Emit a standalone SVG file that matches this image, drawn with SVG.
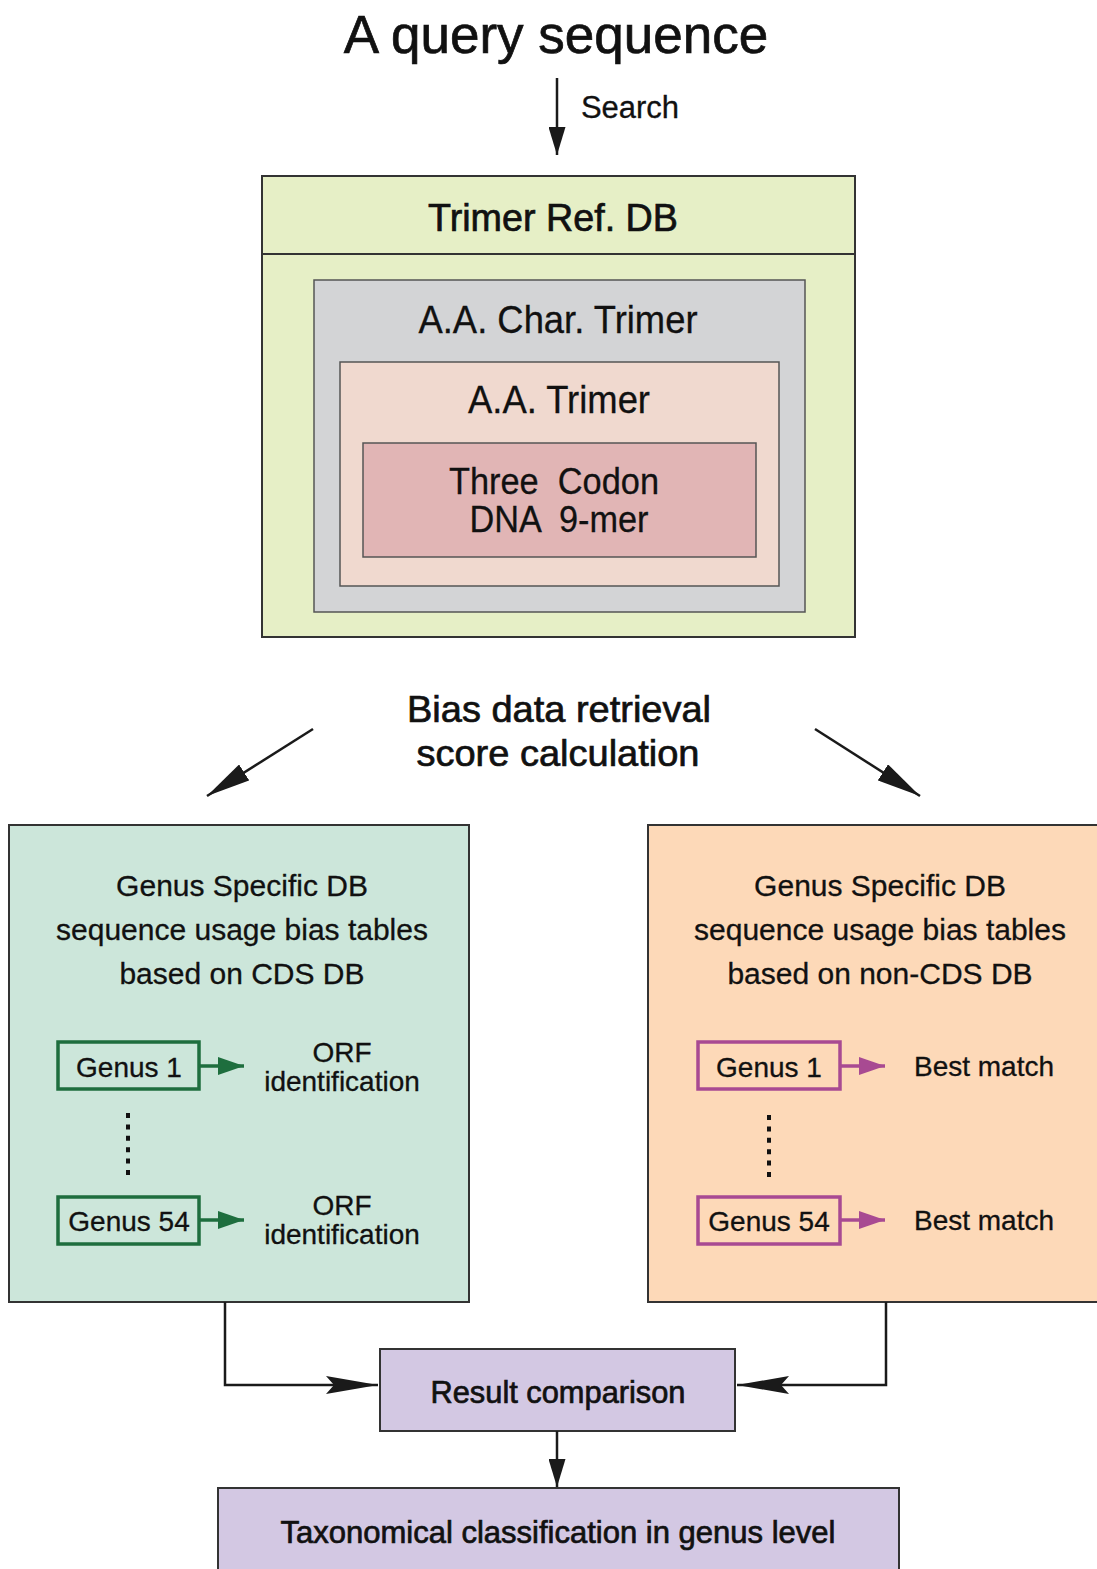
<svg xmlns="http://www.w3.org/2000/svg" width="1097" height="1569" viewBox="0 0 1097 1569">
  <style>
    text { font-family: "Liberation Sans", Arial, sans-serif; fill: #111; text-anchor: middle; stroke: #111; stroke-width: 0.3; }
    .med { stroke-width: 0.7; }
    .box { stroke: #333; stroke-width: 2; }
    .thin { stroke: #555; stroke-width: 1.5; }
    .line { fill: none; stroke: #1a1a1a; stroke-width: 2.5; }
    .gbox { fill: none; stroke: #1e6e3e; stroke-width: 3.5; }
    .mbox { fill: none; stroke: #a84a92; stroke-width: 3.5; }
    .dots { fill: none; stroke-width: 4; stroke-dasharray: 5 6.4; }
  </style>
  <defs>
    <marker id="headS" markerUnits="userSpaceOnUse" viewBox="0 0 28 17" refX="28" refY="8.5" markerWidth="28" markerHeight="17" orient="auto">
      <path d="M0,0 L28,8.5 L0,17 Z" fill="#1a1a1a"/>
    </marker>
    <marker id="headD" markerUnits="userSpaceOnUse" viewBox="0 0 44 19" refX="44" refY="9.5" markerWidth="44" markerHeight="19" orient="auto">
      <path d="M0,0 L44,9.5 L0,19 Z" fill="#1a1a1a"/>
    </marker>
    <marker id="headL" markerUnits="userSpaceOnUse" viewBox="0 0 52 18" refX="52" refY="9" markerWidth="52" markerHeight="18" orient="auto">
      <path d="M0,0 L52,9 L0,18 L8,9 Z" fill="#1a1a1a"/>
    </marker>
    <marker id="headG" markerUnits="userSpaceOnUse" viewBox="0 0 26 18" refX="26" refY="9" markerWidth="26" markerHeight="18" orient="auto">
      <path d="M0,0 L26,9 L0,18 Z" fill="#1e6e3e"/>
    </marker>
    <marker id="headM" markerUnits="userSpaceOnUse" viewBox="0 0 26 18" refX="26" refY="9" markerWidth="26" markerHeight="18" orient="auto">
      <path d="M0,0 L26,9 L0,18 Z" fill="#a84a92"/>
    </marker>
  </defs>

  <rect width="1097" height="1569" fill="#ffffff"/>

  <!-- title -->
  <g id="query">
    <text class="med" x="556" y="53" font-size="53">A query sequence</text>
  </g>

  <!-- nested trimer reference database -->
  <g id="trimer-ref-db">
    <rect class="box" x="262" y="176" width="593" height="461" fill="#e6efc6"/>
    <line class="box" x1="262" y1="254" x2="855" y2="254"/>
    <text class="med" x="553" y="231" font-size="38" textLength="250" lengthAdjust="spacingAndGlyphs">Trimer Ref. DB</text>
  </g>
  <g id="aa-char-trimer">
    <rect class="thin" x="314" y="280" width="491" height="332" fill="#d3d4d6"/>
    <text x="558" y="333" font-size="38" textLength="279" lengthAdjust="spacingAndGlyphs">A.A. Char. Trimer</text>
  </g>
  <g id="aa-trimer">
    <rect class="thin" x="340" y="362" width="439" height="224" fill="#f0d9cf"/>
    <text x="559" y="413" font-size="38" textLength="182" lengthAdjust="spacingAndGlyphs">A.A. Trimer</text>
  </g>
  <g id="three-codon">
    <rect class="thin" x="363" y="443" width="393" height="114" fill="#e1b5b5"/>
    <text x="554" y="494" font-size="37" textLength="210" lengthAdjust="spacingAndGlyphs" xml:space="preserve">Three  Codon</text>
    <text x="559" y="532" font-size="37" textLength="179" lengthAdjust="spacingAndGlyphs" xml:space="preserve">DNA  9-mer</text>
  </g>

  <!-- step label between the reference DB and the genus tables -->
  <g id="bias-label">
    <text class="med" x="559" y="722" font-size="37" textLength="304" lengthAdjust="spacingAndGlyphs">Bias data retrieval</text>
    <text class="med" x="558" y="766" font-size="37" textLength="283" lengthAdjust="spacingAndGlyphs">score calculation</text>
  </g>

  <!-- CDS genus tables -->
  <g id="cds-db">
    <rect class="box" x="9" y="825" width="460" height="477" fill="#cce6da"/>
    <text x="242" y="896" font-size="30">Genus Specific DB</text>
    <text x="242" y="940" font-size="30">sequence usage bias tables</text>
    <text x="242" y="984" font-size="30">based on CDS DB</text>
  </g>
  <g id="cds-genus-1">
    <rect class="gbox" x="58" y="1042" width="141" height="47"/>
    <text x="129" y="1077" font-size="28">Genus 1</text>
  </g>
  <g id="cds-orf-1">
    <text x="342" y="1062" font-size="28">ORF</text>
    <text x="342" y="1091" font-size="28">identification</text>
  </g>
  <g id="cds-genus-54">
    <rect class="gbox" x="58" y="1197" width="141" height="47"/>
    <text x="129" y="1231" font-size="28">Genus 54</text>
  </g>
  <g id="cds-orf-54">
    <text x="342" y="1215" font-size="28">ORF</text>
    <text x="342" y="1244" font-size="28">identification</text>
  </g>

  <!-- non-CDS genus tables -->
  <g id="noncds-db">
    <rect class="box" x="648" y="825" width="460" height="477" fill="#fdd9b8"/>
    <text x="880" y="896" font-size="30">Genus Specific DB</text>
    <text x="880" y="940" font-size="30">sequence usage bias tables</text>
    <text x="880" y="984" font-size="30">based on non-CDS DB</text>
  </g>
  <g id="noncds-genus-1">
    <rect class="mbox" x="698" y="1042" width="142" height="47"/>
    <text x="769" y="1077" font-size="28">Genus 1</text>
  </g>
  <g id="noncds-best-1">
    <text x="984" y="1076" font-size="28">Best match</text>
  </g>
  <g id="noncds-genus-54">
    <rect class="mbox" x="698" y="1197" width="142" height="47"/>
    <text x="769" y="1231" font-size="28">Genus 54</text>
  </g>
  <g id="noncds-best-54">
    <text x="984" y="1230" font-size="28">Best match</text>
  </g>

  <!-- downstream steps -->
  <g id="result-comparison">
    <rect class="box" x="380" y="1349" width="355" height="82" fill="#d3c8e3"/>
    <text class="med" x="558" y="1403" font-size="31" textLength="255" lengthAdjust="spacingAndGlyphs">Result comparison</text>
  </g>
  <g id="taxonomic-classification">
    <rect class="box" x="218" y="1488" width="681" height="100" fill="#d3c8e3"/>
    <text class="med" x="558" y="1543" font-size="31" textLength="555" lengthAdjust="spacingAndGlyphs">Taxonomical classification in genus level</text>
  </g>

  <!-- connectors -->
  <g id="connectors">
    <line class="line" x1="557" y1="78" x2="557" y2="155" marker-end="url(#headS)"/>
    <text x="630" y="118" font-size="31">Search</text>

    <line class="line" x1="313" y1="729" x2="207" y2="796" marker-end="url(#headD)"/>
    <line class="line" x1="815" y1="729" x2="920" y2="796" marker-end="url(#headD)"/>

    <line stroke="#1e6e3e" stroke-width="3.5" x1="199" y1="1066" x2="244" y2="1066" marker-end="url(#headG)"/>
    <line stroke="#1e6e3e" stroke-width="3.5" x1="199" y1="1220" x2="244" y2="1220" marker-end="url(#headG)"/>
    <line class="dots" stroke="#111" x1="128" y1="1113" x2="128" y2="1180"/>

    <line stroke="#a84a92" stroke-width="3.5" x1="840" y1="1066" x2="885" y2="1066" marker-end="url(#headM)"/>
    <line stroke="#a84a92" stroke-width="3.5" x1="840" y1="1220" x2="885" y2="1220" marker-end="url(#headM)"/>
    <line class="dots" stroke="#111" x1="769" y1="1115" x2="769" y2="1182"/>

    <polyline class="line" points="225,1302 225,1385 378,1385" marker-end="url(#headL)"/>
    <polyline class="line" points="886,1302 886,1385 737,1385" marker-end="url(#headL)"/>
    <line class="line" x1="557" y1="1431" x2="557" y2="1487" marker-end="url(#headS)"/>
  </g>
</svg>
